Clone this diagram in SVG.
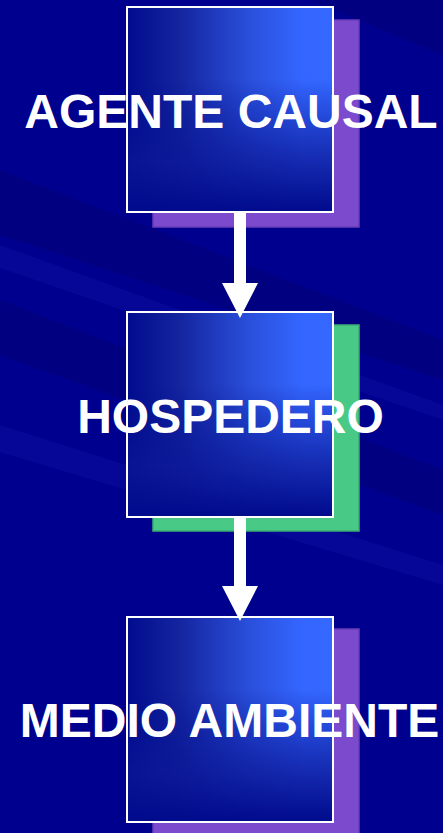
<svg xmlns="http://www.w3.org/2000/svg" width="443" height="833" viewBox="0 0 443 833">
  <defs>
    <!-- box body: dark on the left, bright towards the upper right, fading to dark at the bottom -->
    <linearGradient id="boxFill" x1="0" y1="0" x2="1" y2="0">
      <stop offset="0" stop-color="#000c8e"/>
      <stop offset="0.25" stop-color="#14249e"/>
      <stop offset="0.6" stop-color="#2a50dc"/>
      <stop offset="0.85" stop-color="#3466ff"/>
      <stop offset="1" stop-color="#3468ff"/>
    </linearGradient>
    <linearGradient id="boxShade" x1="0" y1="0" x2="0" y2="1">
      <stop offset="0" stop-color="#000c8c" stop-opacity="0"/>
      <stop offset="0.35" stop-color="#000c8c" stop-opacity="0"/>
      <stop offset="0.75" stop-color="#0a1696" stop-opacity="0.75"/>
      <stop offset="1" stop-color="#000a8c" stop-opacity="1"/>
    </linearGradient>
    <style>
      .bg { fill: #00008f; }
      .streak-dark { fill: #000070; opacity: 0.45; }
      .streak-light { fill: #1a1ab0; opacity: 0.25; }
      .shadow-violet { fill: #7b4acd; stroke: #6a3cb8; stroke-width: 1.5; }
      .shadow-green { fill: #48c986; stroke: #3aae72; stroke-width: 1.5; }
      .box { fill: url(#boxFill); }
      .box-shade { fill: url(#boxShade); }
      .box-edge { fill: none; stroke: #ffffff; stroke-width: 2; }
      .label { font-family: "Liberation Sans", Arial, sans-serif; font-weight: bold; font-size: 48px; fill: #ffffff; text-anchor: middle; }
      .arrow { fill: #ffffff; }
    </style>
  </defs>

  <!-- background with soft diagonal streaks -->
  <rect class="bg" x="0" y="0" width="443" height="833"/>
  <polygon class="streak-dark" points="0,170 443,340 443,380 0,235"/>
  <polygon class="streak-dark" points="0,300 443,470 443,515 0,355"/>
  <polygon class="streak-light" points="0,245 443,405 443,420 0,268"/>
  <polygon class="streak-dark" points="310,0 443,0 443,55"/>
  <polygon class="streak-light" points="0,425 443,565 443,585 0,452"/>

  <g id="agente-causal">
    <rect class="shadow-violet" x="153" y="20" width="206" height="207"/>
    <rect class="box" x="127" y="7" width="206" height="205"/>
    <rect class="box-shade" x="127" y="7" width="206" height="205"/>
    <rect class="box-edge" x="127" y="7" width="206" height="205"/>
    <text class="label" x="231" y="128">AGENTE CAUSAL</text>
  </g>

  <g id="hospedero">
    <rect class="shadow-green" x="153" y="325" width="206" height="206"/>
    <rect class="box" x="127" y="312" width="206" height="205"/>
    <rect class="box-shade" x="127" y="312" width="206" height="205"/>
    <rect class="box-edge" x="127" y="312" width="206" height="205"/>
    <text class="label" x="230.5" y="433">HOSPEDERO</text>
  </g>

  <g id="medio-ambiente">
    <rect class="shadow-violet" x="153" y="629" width="206" height="210"/>
    <rect class="box" x="127" y="617" width="206" height="205"/>
    <rect class="box-shade" x="127" y="617" width="206" height="205"/>
    <rect class="box-edge" x="127" y="617" width="206" height="205"/>
    <text class="label" x="229.5" y="737">MEDIO AMBIENTE</text>
  </g>

  <!-- connectors -->
  <g id="connectors">
    <polygon class="arrow" points="234,212 246,212 246,283 258,283 240,318 222,283 234,283"/>
    <polygon class="arrow" points="234,517 246,517 246,586 258,586 240,621 222,586 234,586"/>
  </g>
</svg>
